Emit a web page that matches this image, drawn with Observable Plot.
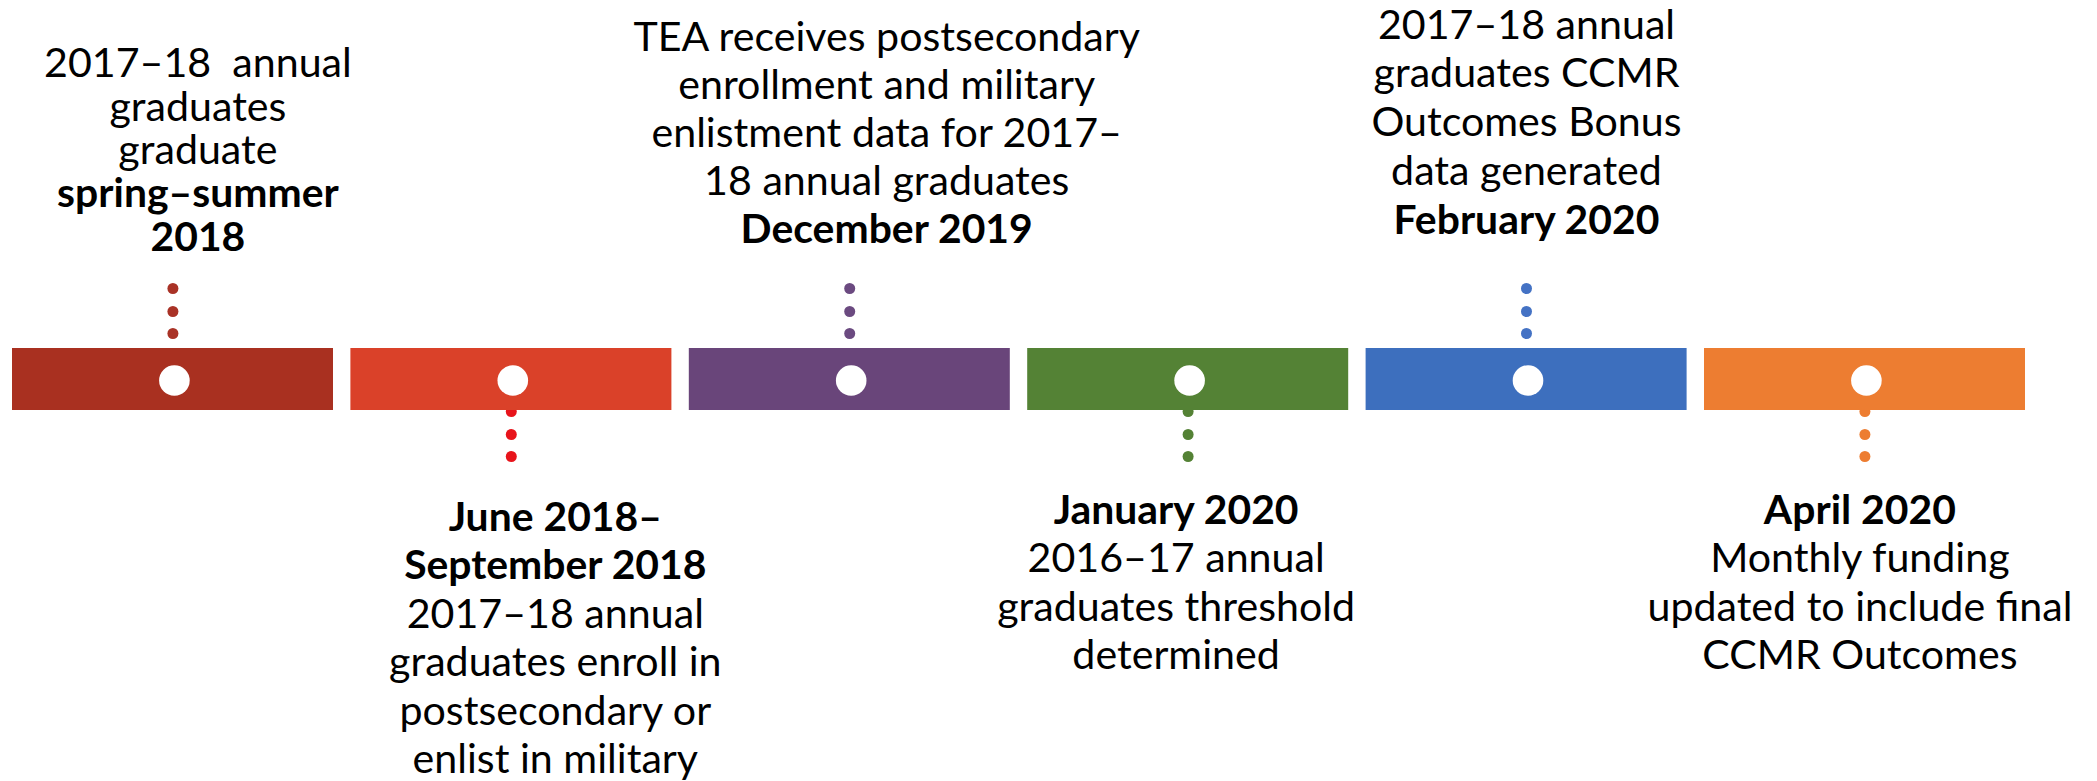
<!DOCTYPE html>
<html>
<head>
<meta charset="utf-8">
<script src="https://cdn.jsdelivr.net/npm/d3@7"></script>
<script src="https://cdn.jsdelivr.net/npm/@observablehq/plot@0.6"></script>
<style>
  html, body { margin: 0; padding: 0; background: #ffffff; }
  #chart { width: 2097px; height: 781px; overflow: hidden; }
</style>
</head>
<body>
<div id="chart"></div>
<script>
// ---------------- data ----------------
const stepIndex = [0, 1, 2, 3, 4, 5];
const sides = ["above", "below", "above", "below", "above", "below"];
const barColors = ["#A93020", "#DA4129", "#69457A", "#548235", "#3D6FBE", "#ED7D31"];
const dotColors = ["#A93226", "#E8141B", "#6B4A80", "#548235", "#4472C4", "#ED7D31"];
const dateLines = [
  ["spring–summer", "2018"],
  ["June 2018–", "September 2018"],
  ["December 2019"],
  ["January 2020"],
  ["February 2020"],
  ["April 2020"]
];
const descLines = [
  ["2017–18\u00a0 annual", "graduates", "graduate"],
  ["2017–18 annual", "graduates enroll in", "postsecondary or", "enlist in military"],
  ["TEA receives postsecondary", "enrollment and military", "enlistment data for 2017–", "18 annual graduates"],
  ["2016–17 annual", "graduates threshold", "determined"],
  ["2017–18 annual", "graduates CCMR", "Outcomes Bonus", "data generated"],
  ["Monthly funding", "updated to include final", "CCMR Outcomes"]
];

// ---------------- layout (not data) ----------------
const PITCH = 338.4;                 // px per step
const BAR_FRAC = 321 / PITCH;        // bar width in step units
const CENTER = 0.474;                // bar centre within a step
const BAR_TOP = 348, BAR_BOTTOM = 410, HOLE_Y = 380;
const labelShift = [25, 44, 37, -12, 0, -5];          // px
const topLastBaseline = {0: 250, 2: 242, 4: 233};
const bottomFirstBaseline = {1: 530, 3: 523, 5: 523};
const lineGap = [43.3, 48.5, 48, 48.5, 48.7, 48.5];
const dotsAbove = [288, 311, 333];
const dotsBelow = [411, 434, 456];

// font fitting: emulate Calibri 45px metrics with Lato
const FONT = "Lato, 'Open Sans', sans-serif";
const ctx = document.createElement("canvas").getContext("2d");
function fit(weight, sample, targetWidth) {
  ctx.font = `${weight} 100px Lato`;
  const cap = ctx.measureText("H").actualBoundingBoxAscent || 72;
  const size = 100 * 29 / cap;
  ctx.font = `${weight} ${size}px Lato`;
  const w = ctx.measureText(sample).width;
  const sx = w > 0 ? targetWidth / w : 1;
  return {size, sx};
}
const reg = fit("normal", "TEA receives postsecondary", 508);
const bold = fit("bold", "December 2019", 293);

// ---------------- tables ----------------
const bars = stepIndex.map(i => ({i, fill: barColors[i]}));
const connectors = [];
stepIndex.forEach(i => {
  (sides[i] === "above" ? dotsAbove : dotsBelow).forEach(y => connectors.push({i, y, fill: dotColors[i]}));
});
const lines = [];
stepIndex.forEach(i => {
  const seq = sides[i] === "above"
    ? [...descLines[i].map(t => ({t, b: false})), ...dateLines[i].map(t => ({t, b: true}))]
    : [...dateLines[i].map(t => ({t, b: true})), ...descLines[i].map(t => ({t, b: false})) ];
  const n = seq.length;
  seq.forEach((s, k) => {
    const y = sides[i] === "above"
      ? topLastBaseline[i] - (n - 1 - k) * lineGap[i]
      : bottomFirstBaseline[i] + k * lineGap[i];
    lines.push({i, text: s.t, bold: s.b, y, x: i + CENTER + labelShift[i] / PITCH});
  });
});

// ---------------- plot ----------------
const svg = Plot.plot({
  width: 2097,
  height: 781,
  margin: 0,
  x: {type: "linear", domain: [0, 6], range: [12, 12 + 6 * PITCH], axis: null},
  y: {type: "linear", domain: [0, 781], range: [0, 781], axis: null},
  style: {background: "#ffffff"},
  marks: [
    Plot.dot(connectors, {x: d => d.i + CENTER, y: "y", r: 5.5, fill: "fill", stroke: null}),
    Plot.rect(bars, {x1: d => d.i, x2: d => d.i + BAR_FRAC, y1: () => BAR_TOP, y2: () => BAR_BOTTOM, fill: "fill"}),
    Plot.dot(bars, {x: d => d.i + CENTER + 1.5 / PITCH, y: () => HOLE_Y, r: 15.3, fill: "#ffffff", stroke: null}),
    Plot.text(lines.filter(d => !d.bold), {x: "x", y: "y", text: "text", lineAnchor: "bottom",
      fontFamily: FONT, fontSize: reg.size, fontWeight: "normal", fill: "#000000"}),
    Plot.text(lines.filter(d => d.bold), {x: "x", y: "y", text: "text", lineAnchor: "bottom",
      fontFamily: FONT, fontSize: bold.size, fontWeight: "bold", fill: "#000000"})
  ]
});

// horizontally condense the Lato glyphs to Calibri-like widths
svg.querySelectorAll("text").forEach(t => {
  const g = t.parentNode;
  const w = g && g.getAttribute("font-weight");
  if (w !== "normal" && w !== "bold") return;
  const sx = w === "bold" ? bold.sx : reg.sx;
  const tr = t.getAttribute("transform") || "";
  t.setAttribute("transform", `${tr} scale(${sx.toFixed(4)},1)`);
});

document.getElementById("chart").appendChild(svg);
</script>
</body>
</html>
